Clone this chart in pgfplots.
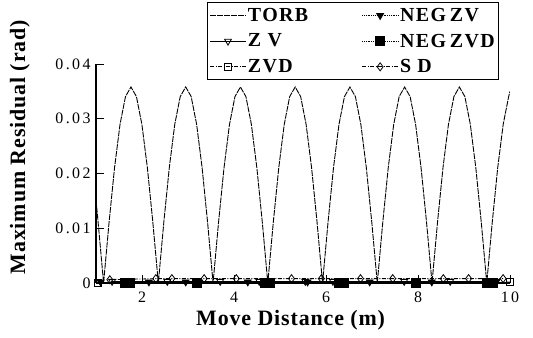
\documentclass[border=0pt]{standalone}
\usepackage{pgfplots}
\pgfplotsset{compat=1.18}
\usepackage{fontspec}
\setmainfont{Liberation Serif}
\newfontfamily\tickfont[LetterSpace=15]{Liberation Serif}
\newfontfamily\legfont[LetterSpace=7]{Liberation Serif}
\newfontfamily\labfont[LetterSpace=4]{Liberation Serif}
\begin{document}
\begin{tikzpicture}
\useasboundingbox (-96bp,-55bp) rectangle (437bp,283bp);
\begin{axis}[
  name=ax, at={(0,0)}, anchor=south west,
  scale only axis, width=414bp, height=219bp,
  xmin=1, xmax=10, ymin=0, ymax=0.04,
  axis x line*=bottom, axis y line*=left,
  axis line style={line width=1.2bp, -},
  xtick={2,4,6,8,10},
  ytick={0,0.01,0.02,0.03,0.04},
  yticklabels={0,0.01,0.02,0.03,0.04},
  scaled y ticks=false,
  tick align=inside, major tick length=8bp,
  tick style={black, line width=0.9bp},
  /pgf/number format/assume math mode=true,
  ticklabel style={font=\tickfont\fontsize{16}{16}\selectfont},
  xticklabel style={yshift=-5bp},
  yticklabel style={xshift=-2bp},
  xlabel={Move Distance (m)},
  ylabel={Maximum Residual (rad)},
  label style={font=\labfont\bfseries\fontsize{22}{22}\selectfont},
  xlabel style={at={(axis description cs:0.47,-0.168)}, anchor=center},
  ylabel style={at={(axis description cs:-0.184,0.62)}, anchor=center},
  legend columns=2,
  legend style={font=\legfont\bfseries\fontsize{20}{22}\selectfont, draw=black, line width=1.2bp,
    at={(axis description cs:0.268,1.283)}, anchor=north west,
    inner xsep=2bp, inner ysep=4bp, row sep=8bp,
    /tikz/column 2/.style={column sep=52bp},
    nodes={inner sep=1.5bp}},
  legend image code/.code={\draw[mark repeat=2,mark phase=2,#1] plot coordinates {(0bp,0bp) (18bp,0bp) (36bp,0bp)};},
  legend cell align=left,
]
% TORB
\addplot[black, line width=0.9bp, dash pattern=on 6bp off 1bp] coordinates {
(1.000,0.0152) (1.046,0.0111) (1.165,0)
(1.284,.01106) (1.403,.02104) (1.522,.02896) (1.641,.03405) (1.760,.0358) (1.879,.03405) (1.998,.02896) (2.117,.02104) (2.236,.01106) (2.355,0)
(2.474,.01106) (2.593,.02104) (2.712,.02896) (2.831,.03405) (2.950,.0358) (3.069,.03405) (3.188,.02896) (3.307,.02104) (3.426,.01106) (3.545,0)
(3.664,.01106) (3.783,.02104) (3.902,.02896) (4.021,.03405) (4.140,.0358) (4.259,.03405) (4.378,.02896) (4.497,.02104) (4.616,.01106) (4.735,0)
(4.854,.01106) (4.973,.02104) (5.092,.02896) (5.211,.03405) (5.330,.0358) (5.449,.03405) (5.568,.02896) (5.687,.02104) (5.806,.01106) (5.925,0)
(6.044,.01106) (6.163,.02104) (6.282,.02896) (6.401,.03405) (6.520,.0358) (6.639,.03405) (6.758,.02896) (6.877,.02104) (6.996,.01106) (7.115,0)
(7.234,.01106) (7.353,.02104) (7.472,.02896) (7.591,.03405) (7.710,.0358) (7.829,.03405) (7.948,.02896) (8.067,.02104) (8.186,.01106) (8.305,0)
(8.424,.01106) (8.543,.02104) (8.662,.02896) (8.781,.03405) (8.900,.0358) (9.019,.03405) (9.138,.02896) (9.257,.02104) (9.376,.01106) (9.495,0)
(9.614,.01106) (9.733,.02104) (9.852,.02896) (9.971,.03405) (10.000,.0350)
};
\addlegendentry{TORB}
% NEG ZV
\addplot[black, line width=0.8bp, densely dotted, mark=triangle*, mark size=4bp, mark options={solid, rotate=180}] coordinates {
(1.10,0.0002) (2.15,0.0002) (2.95,0.0002) (4.30,0.0002) (4.75,0.0002) (5.60,0.0002) (6.95,0.0002) (8.30,0.0002) (9.70,0.0002)
};
\addlegendentry{NEG\hspace{4bp}ZV}
% ZV
\addplot[black, line width=0.8bp, mark=triangle, mark size=4bp, mark options={solid, rotate=180}] coordinates {
(1.35,0.0003) (2.55,0.0003) (3.70,0.0003) (4.55,0.0003) (5.55,0.0003) (6.15,0.0003) (7.70,0.0003) (8.70,0.0003) (9.70,0.0003)
};
\addlegendentry{Z V}
% NEG ZVD
\addplot[black, line width=0.8bp, densely dotted, mark=square*, mark size=4.5bp, mark options={solid}] coordinates {
(1.62,0) (1.74,0) (3.20,0) (4.68,0) (4.78,0) (6.28,0) (6.40,0) (7.95,0) (9.50,0) (9.62,0)
};
\addlegendentry{NEG\hspace{4bp}ZVD}
% ZVD
\addplot[black, line width=0.8bp, dash pattern=on 4bp off 1.5bp on 1bp off 1.5bp, mark=square, mark size=3.5bp, mark options={solid}] coordinates {
(1.05,0) (1.45,-0.0003) (2.80,-0.0003) (3.95,-0.0003) (4.95,-0.0003) (6.00,-0.0003) (6.85,-0.0003) (8.05,-0.0003) (9.00,-0.0003) (10.00,0.0002)
};
\addlegendentry{ZVD}
% SD
\addplot[black, line width=0.8bp, dash pattern=on 4bp off 1.5bp on 1bp off 1.5bp, mark=diamond, mark size=4bp, mark options={solid}] coordinates {
(1.30,0.0006) (2.30,0.0008) (2.65,0.0008) (3.35,0.0008) (4.05,0.0008) (5.25,0.0008) (5.90,0.0008) (6.75,0.0008) (7.45,0.0008) (8.55,0.0008) (9.10,0.0008) (9.85,0.0008)
};
\addlegendentry{S D}
\end{axis}
\end{tikzpicture}
\end{document}
